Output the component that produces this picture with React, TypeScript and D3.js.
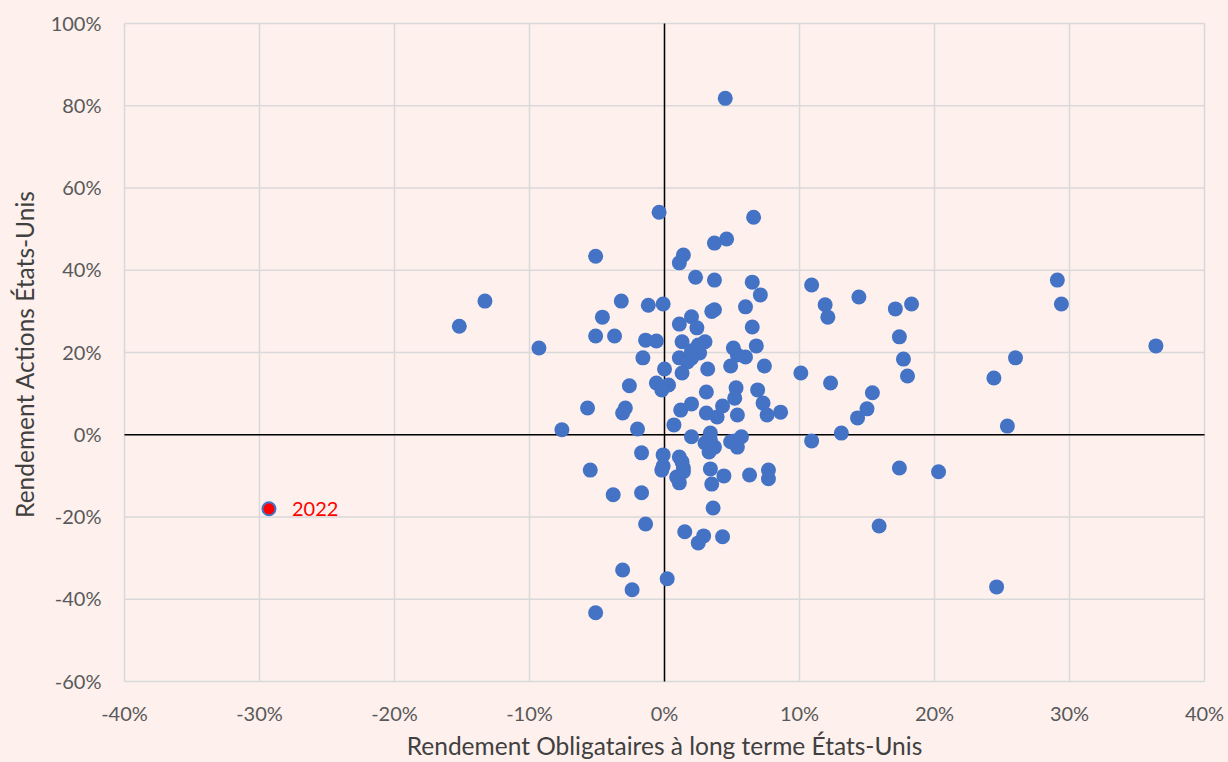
import React, { useRef, useEffect } from 'react';
import * as d3 from 'd3';

// rendements annuels (%) : obligations long terme vs actions, États-Unis
const bondReturns = [
  4.5, -0.4, 6.6, 4.6, 3.7, -5.1, 1.4, 1.1, -13.3, -15.2,
  -9.3, -3.2, -4.6, -1.2, -0.1, 2.3, 3.7, 6.5, 3.5, 3.7,
  6.0, 7.1, 1.1, 2.0, 2.4, 6.5, -5.1, -3.7, -1.4, -0.6,
  1.3, 3.0, 2.5, 5.1, 6.8, -1.6, 1.1, 2.0, 2.0, 2.6,
  1.7, 5.4, 6.0, 4.9, 7.4, 0.0, 3.2, 1.3, -2.6, -0.6,
  0.3, -0.2, 3.1, 5.3, 6.9, 5.2, -5.7, -2.9, -3.1, 2.0,
  4.3, 7.3, 1.2, 3.1, 3.9, 5.4, 7.6, 8.6, -7.6, -2.0,
  0.7, 2.0, 3.4, 3.4, 3.0, 3.7, 3.3, 4.9, 5.2, 5.7,
  5.4, 10.9, -1.7, -0.1, -0.1, -0.2, 1.1, 1.3, 1.4, 1.4,
  3.4, 0.9, 1.1, 3.5, 4.4, 6.3, 7.7, 7.7, -5.5, -3.8,
  -1.7, -1.4, 3.6, 1.5, 2.9, 2.5, 4.3, -3.1, -2.4, 0.2,
  -5.1, 10.1, 10.9, 11.9, 12.1, 12.3, 13.1, 14.4, 14.3, 15.0,
  15.4, 17.1, 18.3, 17.4, 17.7, 18.0, 17.4, 15.9, 20.3, 24.4,
  26.0, 25.4, 24.6, 29.1, 29.4, 36.4,
];
const stockReturns = [
  81.8, 54.1, 52.9, 47.6, 46.6, 43.4, 43.7, 41.8, 32.5, 26.4,
  21.1, 32.5, 28.6, 31.5, 31.8, 38.3, 37.6, 37.1, 30.0, 30.4,
  31.1, 34.0, 26.9, 28.7, 26.0, 26.2, 24.0, 24.0, 23.0, 22.8,
  22.6, 22.6, 21.8, 21.1, 21.6, 18.7, 18.7, 18.6, 20.4, 19.9,
  17.7, 19.4, 18.9, 16.7, 16.7, 16.0, 16.0, 15.0, 11.9, 12.6,
  12.1, 10.9, 10.4, 11.4, 10.9, 8.9, 6.5, 6.5, 5.3, 7.5,
  7.0, 7.7, 6.0, 5.3, 4.3, 4.8, 4.8, 5.5, 1.2, 1.4,
  2.4, -0.5, 0.4, -1.3, -2.0, -3.0, -4.2, -1.7, -1.5, -0.5,
  -3.0, -1.5, -4.4, -4.9, -7.6, -8.6, -5.4, -6.6, -8.1, -9.0,
  -8.3, -10.3, -11.7, -12.0, -10.0, -9.8, -8.6, -10.7, -8.6, -14.6,
  -14.1, -21.7, -17.8, -23.6, -24.6, -26.3, -24.8, -32.9, -37.7, -35.0,
  -43.3, 15.0, 36.4, 31.6, 28.6, 12.6, 0.4, 33.5, 4.1, 6.3,
  10.2, 30.6, 31.8, 23.8, 18.4, 14.3, -8.1, -22.2, -9.0, 13.8,
  18.7, 2.1, -37.0, 37.6, 31.8, 21.6,
];

// année mise en évidence
const highlightLabels = ['2022'];
const highlightBond = [-29.3];
const highlightStock = [-18.0];

const xTicks = [-40, -30, -20, -10, 0, 10, 20, 30, 40];
const yTicks = [-60, -40, -20, 0, 20, 40, 60, 80, 100];

const xTitle = 'Rendement Obligataires à long terme États-Unis';
const yTitle = 'Rendement Actions États-Unis';

const App = () => {
  const svgRef = useRef<SVGSVGElement>(null);

  useEffect(() => {
    const width = 1228;
    const height = 762;
    const margin = { top: 23.5, right: 23.5, bottom: 80.5, left: 124.5 };
    const font = 'Lato, "Open Sans", sans-serif';

    const svg = d3.select(svgRef.current);
    svg.selectAll('*').remove();

    svg.append('rect')
      .attr('width', width)
      .attr('height', height)
      .attr('fill', '#FDF0ED');

    const x = d3.scaleLinear()
      .domain([-40, 40])
      .range([margin.left, width - margin.right]);
    const y = d3.scaleLinear()
      .domain([-60, 100])
      .range([height - margin.bottom, margin.top]);

    // grille
    const grid = svg.append('g').attr('stroke', '#D9D9D9').attr('stroke-width', 1.5);
    grid.selectAll('line.v')
      .data(xTicks)
      .join('line')
      .attr('class', 'v')
      .attr('x1', d => x(d)).attr('x2', d => x(d))
      .attr('y1', y(-60)).attr('y2', y(100));
    grid.selectAll('line.h')
      .data(yTicks)
      .join('line')
      .attr('class', 'h')
      .attr('y1', d => y(d)).attr('y2', d => y(d))
      .attr('x1', x(-40)).attr('x2', x(40));

    // axes à zéro
    svg.append('line')
      .attr('x1', x(-40)).attr('x2', x(40))
      .attr('y1', y(0)).attr('y2', y(0))
      .attr('stroke', '#000').attr('stroke-width', 1.5);
    svg.append('line')
      .attr('x1', x(0)).attr('x2', x(0))
      .attr('y1', y(-60)).attr('y2', y(100))
      .attr('stroke', '#000').attr('stroke-width', 1.5);

    // étiquettes des graduations
    svg.append('g')
      .selectAll('text')
      .data(xTicks)
      .join('text')
      .attr('x', d => x(d))
      .attr('y', y(-60) + 39)
      .attr('text-anchor', 'middle')
      .style('font-family', font)
      .style('font-size', '20px')
      .attr('fill', '#595959')
      .text(d => `${d}%`);

    svg.append('g')
      .selectAll('text')
      .data(yTicks)
      .join('text')
      .attr('x', margin.left - 23)
      .attr('y', d => y(d))
      .attr('dy', '0.35em')
      .attr('text-anchor', 'end')
      .style('font-family', font)
      .style('font-size', '20px')
      .attr('fill', '#595959')
      .text(d => `${d}%`);

    // titres des axes
    svg.append('text')
      .attr('x', x(0))
      .attr('y', height - 7)
      .attr('text-anchor', 'middle')
      .style('font-family', font)
      .style('font-size', '24.5px')
      .attr('fill', '#404040')
      .text(xTitle);

    svg.append('text')
      .attr('transform', `translate(34,${(y(-60) + y(100)) / 2 + 2}) rotate(-90)`)
      .attr('text-anchor', 'middle')
      .style('font-family', font)
      .style('font-size', '24.5px')
      .attr('fill', '#404040')
      .text(yTitle);

    // points
    const points = bondReturns.map((b, i) => ({ b, s: stockReturns[i] }));
    svg.append('g')
      .selectAll('circle')
      .data(points)
      .join('circle')
      .attr('cx', d => x(d.b))
      .attr('cy', d => y(d.s))
      .attr('r', 7.5)
      .attr('fill', '#4472C4');

    const hl = highlightLabels.map((label, i) => ({ label, b: highlightBond[i], s: highlightStock[i] }));
    const hg = svg.append('g');
    hg.selectAll('circle')
      .data(hl)
      .join('circle')
      .attr('cx', d => x(d.b))
      .attr('cy', d => y(d.s))
      .attr('r', 6.5)
      .attr('fill', '#FF0000')
      .attr('stroke', '#4472C4')
      .attr('stroke-width', 2);
    hg.selectAll('text')
      .data(hl)
      .join('text')
      .attr('x', d => x(d.b) + 23)
      .attr('y', d => y(d.s))
      .attr('dy', '0.35em')
      .style('font-family', font)
      .style('font-size', '20px')
      .attr('fill', '#FF0000')
      .text(d => d.label);
  }, []);

  return (
    <svg
      ref={svgRef}
      width={1228}
      height={762}
      style={{ position: 'absolute', left: 0, top: 0, display: 'block' }}
    />
  );
};

export default App;
